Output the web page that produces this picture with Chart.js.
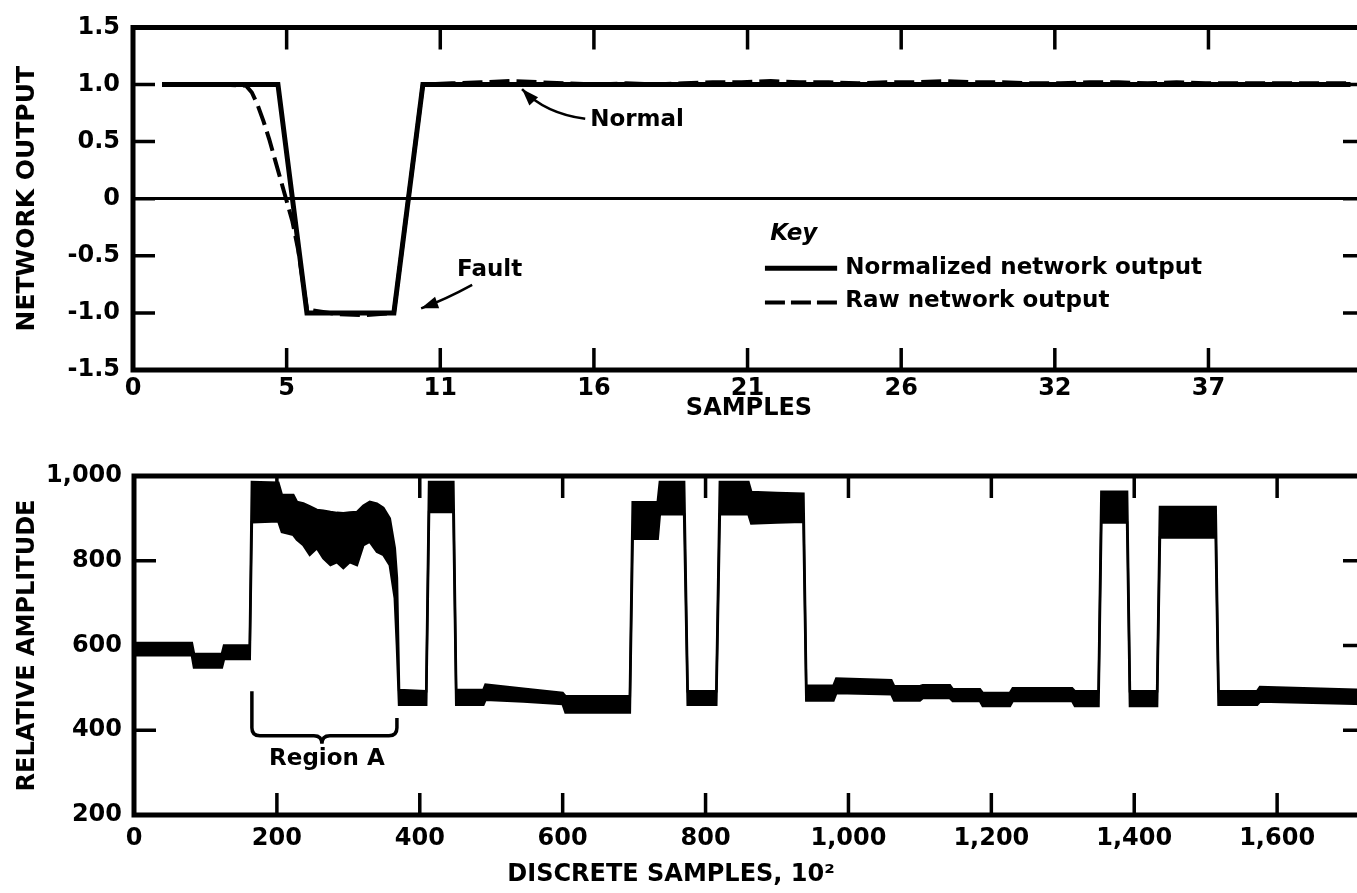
<!DOCTYPE html>
<html>
<head>
<meta charset="utf-8">
<title>Network output and relative amplitude</title>
<script src="https://cdn.jsdelivr.net/npm/chart.js@4.4.0/dist/chart.umd.min.js"></script>
<style>
  body { margin: 0; background: #fff; width: 1357px; height: 893px; overflow: hidden; }
  canvas { display: block; }
</style>
</head>
<body>
<canvas id="topChart" width="1372" height="440"></canvas>
<canvas id="bottomChart" width="1372" height="453"></canvas>
<script>
// ---- top panel: network output per sample ----
const sampleNo = [1, 2, 3, 4, 5, 6, 7, 8, 9, 10, 11, 12, 13, 14, 15, 16, 17, 18, 19, 20, 21,
  22, 23, 24, 25, 26, 27, 28, 29, 30, 31, 32, 33, 34, 35, 36, 37, 38, 39, 40, 41, 42];
const normalizedOutput = [1, 1, 1, 1, 1, -1, -1, -1, -1, 1, 1, 1, 1, 1, 1, 1, 1, 1, 1, 1, 1,
  1, 1, 1, 1, 1, 1, 1, 1, 1, 1, 1, 1, 1, 1, 1, 1, 1, 1, 1, 1, 1];

const rawSampleNo = [1, 2, 3, 3.9, 4.1, 4.3, 4.5, 4.7, 4.9, 5.1, 5.3, 5.5, 5.7, 6, 7, 8, 9, 10,
  11, 12, 13, 14, 15, 16, 17, 18, 19, 20, 21, 22, 23, 24, 25, 26, 27, 28, 29, 30, 31, 32, 33,
  34, 35, 36, 37, 38, 39, 40, 41, 42];
const rawOutput = [1, 1, 1, 0.99, 0.93, 0.82, 0.68, 0.52, 0.34, 0.16, -0.02, -0.2, -0.45, -0.97,
  -1.01, -1.02, -1.0, 1.0,
  1.01, 1.02, 1.03, 1.02, 1.01, 1.0, 1.01, 1.0, 1.01, 1.02, 1.02, 1.03, 1.02, 1.02, 1.01, 1.02,
  1.02, 1.03, 1.02, 1.02, 1.01, 1.01, 1.02, 1.02, 1.01, 1.02, 1.01, 1.01, 1.01, 1.01, 1.01, 1.01];

const topXTickPos = [0, 5.3, 10.6, 15.9, 21.2, 26.5, 31.8, 37.1];
const topXTickLabels = ["0", "5", "11", "16", "21", "26", "32", "37"];
const topYTicks = [-1.5, -1, -0.5, 0, 0.5, 1, 1.5];
const topYLabels = ["-1.5", "-1.0", "-0.5", "0", "0.5", "1.0", "1.5"];

// ---- bottom panel: amplitude envelope (low / high edge of the trace) ----
const bandX = [0, 81, 84, 123, 126, 162, 165, 202, 207, 223,
  228, 237, 246, 256, 265, 275, 284, 293, 302, 312,
  321, 330, 340, 349, 358, 365, 368, 371, 409, 413,
  447, 451, 489, 492, 545, 600, 604, 694, 698, 733,
  736, 770, 775, 815, 820, 860, 864, 900, 937, 941,
  979, 983, 1060, 1064, 1100, 1104, 1142, 1146, 1184, 1188,
  1226, 1230, 1313, 1317, 1350, 1354, 1390, 1394, 1432, 1436,
  1514, 1518, 1572, 1576, 1723];
const bandLow = [577, 577, 548, 548, 568, 568, 891, 893, 868, 861,
  850, 837, 814, 830, 806, 790, 797, 783, 797, 790,
  837, 845, 821, 814, 790, 712, 600, 460, 460, 915,
  915, 460, 460, 472, 468, 462, 442, 442, 852, 852,
  910, 910, 460, 460, 910, 910, 888, 890, 892, 470,
  470, 488, 485, 470, 470, 476, 476, 469, 469, 457,
  457, 469, 469, 457, 457, 890, 890, 457, 457, 855,
  855, 460, 460, 468, 462];
const bandHigh = [606, 606, 580, 580, 600, 600, 986, 984, 955, 955,
  939, 935, 928, 920, 918, 915, 913, 912, 914, 915,
  930, 939, 935, 925, 900, 830, 760, 495, 492, 986,
  986, 495, 495, 508, 498, 488, 480, 480, 938, 938,
  986, 986, 492, 492, 986, 986, 962, 960, 958, 505,
  505, 522, 518, 504, 504, 506, 506, 497, 497, 488,
  488, 499, 499, 492, 492, 963, 963, 492, 492, 927,
  927, 492, 492, 502, 495];

const bottomXTicks = [0, 200, 400, 600, 800, 1000, 1200, 1400, 1600];
const bottomYTicks = [200, 400, 600, 800, 1000];

Chart.defaults.font.family = "'DejaVu Sans', sans-serif";
Chart.defaults.color = "#000";

const tickFont = { family: "'DejaVu Sans', sans-serif", size: 24, weight: "bold" };
const noteFont = "bold 23px 'DejaVu Sans', sans-serif";

// inward tick marks and the heavy frame, drawn from the scales' own ticks
const frameAndTicks = {
  id: "frameAndTicks",
  afterDatasetsDraw(chart) {
    const { ctx, chartArea: area, scales } = chart;
    const len = 22;
    ctx.save();
    ctx.strokeStyle = "#000";
    ctx.lineWidth = 3.5;
    ctx.beginPath();
    scales.x.ticks.forEach(t => {
      const px = scales.x.getPixelForValue(t.value);
      if (px < area.left + 5) return;
      ctx.moveTo(px, area.top);
      ctx.lineTo(px, area.top + len);
      ctx.moveTo(px, area.bottom);
      ctx.lineTo(px, area.bottom - len);
    });
    scales.y.ticks.forEach(t => {
      const py = scales.y.getPixelForValue(t.value);
      if (py < area.top + 5 || py > area.bottom - 5) return;
      ctx.moveTo(area.left, py);
      ctx.lineTo(area.left + len, py);
      ctx.moveTo(area.right, py);
      ctx.lineTo(area.right - len, py);
    });
    ctx.stroke();
    ctx.lineWidth = 5;
    ctx.beginPath();
    ctx.moveTo(area.right + 10, area.top);
    ctx.lineTo(area.left, area.top);
    ctx.lineTo(area.left, area.bottom);
    ctx.lineTo(area.right + 10, area.bottom);
    ctx.stroke();
    ctx.restore();
  }
};

function curvedArrow(ctx, from, ctrl, to) {
  ctx.lineWidth = 2.5;
  ctx.beginPath();
  ctx.moveTo(from[0], from[1]);
  ctx.quadraticCurveTo(ctrl[0], ctrl[1], to[0], to[1]);
  ctx.stroke();
  const ang = Math.atan2(to[1] - ctrl[1], to[0] - ctrl[0]);
  const L = 17, W = 6;
  ctx.beginPath();
  ctx.moveTo(to[0], to[1]);
  ctx.lineTo(to[0] - L * Math.cos(ang) + W * Math.sin(ang), to[1] - L * Math.sin(ang) - W * Math.cos(ang));
  ctx.lineTo(to[0] - L * Math.cos(ang) - W * Math.sin(ang), to[1] - L * Math.sin(ang) + W * Math.cos(ang));
  ctx.closePath();
  ctx.fill();
}

const topNotes = {
  id: "topNotes",
  afterDraw(chart) {
    const { ctx, scales: { x, y } } = chart;
    const px = v => x.getPixelForValue(v);
    const py = v => y.getPixelForValue(v);
    ctx.save();
    ctx.fillStyle = "#000";
    ctx.strokeStyle = "#000";
    ctx.textBaseline = "middle";
    ctx.font = noteFont;
    ctx.fillText("Normal", px(15.77), py(0.686));
    ctx.fillText("Fault", px(11.18), py(-0.626));
    curvedArrow(ctx, [px(15.6), py(0.70)], [px(14.22), py(0.746)], [px(13.42), py(0.96)]);
    curvedArrow(ctx, [px(11.7), py(-0.754)], [px(10.77), py(-0.883)], [px(9.94), py(-0.96)]);

    // key
    ctx.font = "italic bold 23px 'DejaVu Sans', sans-serif";
    ctx.fillText("Key", px(21.98), py(-0.31));
    ctx.font = noteFont;
    const ds = chart.data.datasets;
    ctx.lineWidth = ds[0].borderWidth;
    ctx.beginPath();
    ctx.moveTo(px(21.8), py(-0.61));
    ctx.lineTo(px(24.29), py(-0.61));
    ctx.stroke();
    ctx.lineWidth = ds[1].borderWidth;
    ctx.setLineDash([20, 6]);
    ctx.beginPath();
    ctx.moveTo(px(21.8), py(-0.91));
    ctx.lineTo(px(24.29), py(-0.91));
    ctx.stroke();
    ctx.setLineDash([]);
    ctx.fillText(ds[0].label, px(24.57), py(-0.61));
    ctx.fillText(ds[1].label, px(24.57), py(-0.9));
    ctx.restore();
  }
};

const bottomNotes = {
  id: "bottomNotes",
  afterDraw(chart) {
    const { ctx, scales: { x, y } } = chart;
    const left = x.getPixelForValue(165), right = x.getPixelForValue(368);
    const mid = x.getPixelForValue(263);
    const base = y.getPixelForValue(387);
    const r = 8;
    ctx.save();
    ctx.strokeStyle = "#000";
    ctx.fillStyle = "#000";
    ctx.lineWidth = 3.5;
    ctx.beginPath();
    ctx.moveTo(left, y.getPixelForValue(492));
    ctx.lineTo(left, base - r);
    ctx.quadraticCurveTo(left, base, left + r, base);
    ctx.lineTo(mid - r, base);
    ctx.quadraticCurveTo(mid, base, mid, base + r);
    ctx.quadraticCurveTo(mid, base, mid + r, base);
    ctx.lineTo(right - r, base);
    ctx.quadraticCurveTo(right, base, right, base - r);
    ctx.lineTo(right, y.getPixelForValue(429));
    ctx.stroke();
    ctx.font = noteFont;
    ctx.textAlign = "center";
    ctx.textBaseline = "middle";
    ctx.fillText("Region A", x.getPixelForValue(270), y.getPixelForValue(331));
    // axis title, set left of the plot centre as in the original
    ctx.font = "bold 24px 'DejaVu Sans', sans-serif";
    ctx.fillText("DISCRETE SAMPLES, 10\u00B2", 671, chart.height - 18);
    ctx.restore();
  }
};

new Chart(document.getElementById("topChart"), {
  type: "line",
  data: {
    datasets: [
      {
        label: "Normalized network output",
        data: sampleNo.map((s, i) => ({ x: s, y: normalizedOutput[i] })),
        borderColor: "#000",
        borderWidth: 5,
        pointRadius: 0,
        tension: 0
      },
      {
        label: "Raw network output",
        data: rawSampleNo.map((s, i) => ({ x: s, y: rawOutput[i] })),
        borderColor: "#000",
        borderWidth: 4,
        borderDash: [20, 7],
        pointRadius: 0,
        tension: 0
      }
    ]
  },
  options: {
    responsive: false,
    animation: false,
    devicePixelRatio: 1,
    layout: { padding: { top: 20, right: 7, bottom: 0, left: 0 } },
    plugins: { legend: { display: false }, tooltip: { enabled: false } },
    scales: {
      x: {
        type: "linear",
        min: 0,
        max: 42.5,
        afterBuildTicks: s => { s.ticks = topXTickPos.map(v => ({ value: v })); },
        afterFit: s => { s.height = 70; },
        grid: { display: false, drawTicks: false },
        border: { display: false },
        ticks: {
          autoSkip: false,
          maxRotation: 0,
          padding: 4,
          font: tickFont,
          callback: (v, i) => topXTickLabels[i]
        },
        title: {
          display: true,
          text: "SAMPLES",
          font: tickFont,
          padding: { top: 0, bottom: 17 }
        }
      },
      y: {
        min: -1.5,
        max: 1.5,
        afterBuildTicks: s => { s.ticks = topYTicks.map(v => ({ value: v })); },
        afterFit: s => { s.width = 133; },
        grid: {
          drawTicks: false,
          lineWidth: 3,
          color: c => (c.tick && c.tick.value === 0 ? "#000" : "rgba(0,0,0,0)")
        },
        border: { display: false },
        ticks: {
          autoSkip: false,
          padding: 13,
          font: tickFont,
          callback: (v, i) => topYLabels[i]
        },
        title: {
          display: true,
          text: "NETWORK OUTPUT",
          font: { family: "'DejaVu Sans', sans-serif", size: 25, weight: "bold" },
          padding: { top: 12, bottom: 0 }
        }
      }
    }
  },
  plugins: [frameAndTicks, topNotes]
});

new Chart(document.getElementById("bottomChart"), {
  type: "line",
  data: {
    datasets: [
      {
        label: "low edge",
        data: bandX.map((v, i) => ({ x: v, y: bandLow[i] })),
        borderColor: "#000",
        borderWidth: 2.5,
        pointRadius: 0,
        tension: 0,
        fill: false
      },
      {
        label: "high edge",
        data: bandX.map((v, i) => ({ x: v, y: bandHigh[i] })),
        borderColor: "#000",
        backgroundColor: "#000",
        borderWidth: 2.5,
        pointRadius: 0,
        tension: 0,
        fill: "-1"
      }
    ]
  },
  options: {
    responsive: false,
    animation: false,
    devicePixelRatio: 1,
    layout: { padding: { top: 36, right: 7, bottom: 0, left: 0 } },
    plugins: { legend: { display: false }, tooltip: { enabled: false } },
    scales: {
      x: {
        type: "linear",
        min: 0,
        max: 1723,
        afterBuildTicks: s => { s.ticks = bottomXTicks.map(v => ({ value: v })); },
        afterFit: s => { s.height = 78; },
        grid: { display: false, drawTicks: false },
        border: { display: false },
        ticks: {
          autoSkip: false,
          maxRotation: 0,
          padding: 9,
          font: tickFont,
          callback: v => v.toLocaleString("en-US")
        }
      },
      y: {
        min: 200,
        max: 1000,
        afterBuildTicks: s => { s.ticks = bottomYTicks.map(v => ({ value: v })); },
        afterFit: s => { s.width = 134; },
        grid: { display: false, drawTicks: false },
        border: { display: false },
        ticks: {
          autoSkip: false,
          padding: 12,
          font: tickFont,
          callback: v => v.toLocaleString("en-US")
        },
        title: {
          display: true,
          text: "RELATIVE AMPLITUDE",
          font: tickFont,
          padding: { top: 13, bottom: 0 }
        }
      }
    }
  },
  plugins: [frameAndTicks, bottomNotes]
});
</script>
</body>
</html>
